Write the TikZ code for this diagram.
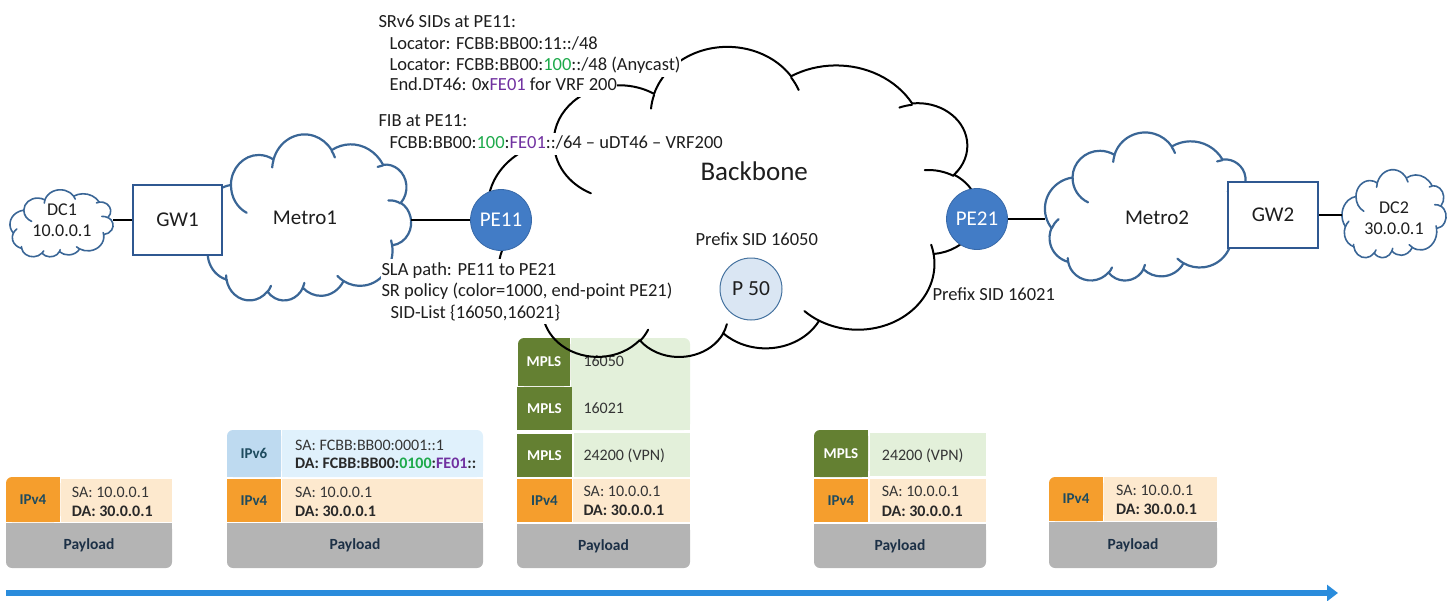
\documentclass[tikz,border=0pt]{standalone}
\usepackage{fontspec}
\setmainfont{Carlito}
\usetikzlibrary{arrows.meta}

\definecolor{cloudblue}{RGB}{58,102,150}
\definecolor{gwblue}{RGB}{47,88,145}
\definecolor{peblue}{RGB}{66,124,198}
\definecolor{pfill}{RGB}{218,230,243}
\definecolor{pborder}{RGB}{70,115,160}
\definecolor{sidgreen}{RGB}{30,170,75}
\definecolor{sidpurple}{RGB}{112,48,160}
\definecolor{ipvfour}{RGB}{245,158,45}
\definecolor{peach}{RGB}{253,233,206}
\definecolor{paygray}{RGB}{180,180,180}
\definecolor{ipvsix}{RGB}{190,218,240}
\definecolor{ipvsixlt}{RGB}{224,241,252}
\definecolor{mplsg}{RGB}{100,128,50}
\definecolor{mplslt}{RGB}{227,240,218}
\definecolor{labteal}{RGB}{30,75,95}
\definecolor{paynavy}{RGB}{28,48,70}
\definecolor{arrowblue}{RGB}{42,140,220}
\definecolor{txt}{RGB}{30,30,30}

% ---- Office-style cloud (rotated 180 degrees), path space 432 x 432 ----
\newcommand\ccstart[2]{%
  \pgfmathsetmacro\ccpx{\ccx+(432-(#1))*\ccsx}%
  \pgfmathsetmacro\ccpy{\ccy+(432-(#2))*\ccsy}%
  \xdef\ccpath{\ccpath (\ccpx,\ccpy)}%
}
\newcommand\ccarc[4]{%
  \pgfmathsetmacro\ccta{atan2((#1)*sin(#3),(#2)*cos(#3))}%
  \pgfmathsetmacro\cctb{atan2((#1)*sin((#3)+(#4)),(#2)*cos((#3)+(#4)))}%
  \pgfmathsetmacro\ccd{mod(\cctb-(\ccta)+720,360)}%
  \pgfmathsetmacro\ccsa{-(\ccta+180)}%
  \pgfmathsetmacro\ccrx{(#1)*\ccsx}%
  \pgfmathsetmacro\ccry{(#2)*\ccsy}%
  \xdef\ccpath{\ccpath arc[start angle=\ccsa, delta angle=-\ccd, x radius=\ccrx pt, y radius=\ccry pt]}%
}
\newcommand\cloudshape[5]{%
  \def\ccx{#1}\def\ccy{#2}%
  \pgfmathsetmacro\ccsx{(#3)/432}\pgfmathsetmacro\ccsy{(#4)/432}%
  \gdef\ccpath{}%
  \ccstart{39.00}{143.70}%
  \ccarc{67.53}{91.90}{-190.48748}{123.78053}%
  \ccarc{53.33}{72.67}{-144.10238}{89.94523}%
  \ccarc{43.65}{59.45}{-145.80792}{99.72302}%
  \ccarc{48.57}{65.95}{-130.98607}{117.24173}%
  \ccarc{53.33}{72.73}{-78.70888}{109.02692}%
  \ccarc{67.75}{92.20}{-46.26725}{130.269}%
  \ccarc{57.85}{78.67}{0.62502}{114.03333}%
  \ccarc{67.52}{92.15}{22.4516}{115.17255}%
  \ccarc{77.20}{105.43}{66.24263}{75.71102}%
  \ccarc{43.60}{59.18}{-274.94208}{146.73557}%
  \ccarc{43.45}{59.45}{-246.8285}{152.51885}%
  \begingroup\edef\x{\endgroup\noexpand\draw[#5] \ccpath -- cycle;}\x
  \gdef\ccpath{}%
  \ccstart{46.93}{261.77}\ccarc{43.45}{59.45}{86.742}{26.4295}%
  \ccstart{69.28}{348.99}\ccarc{43.60}{59.18}{73.61047}{11.44747}%
  \ccstart{164.78}{390.90}\ccarc{67.52}{92.15}{137.62415}{14.0811}%
  \ccstart{288.27}{347.51}\ccarc{67.52}{92.15}{6.45327}{15.99835}%
  \ccstart{341.29}{229.54}\ccarc{57.85}{78.67}{-70.29235}{70.9174}%
  \ccstart{417.98}{153.54}\ccarc{53.33}{72.73}{30.31803}{27.7515}%
  \ccstart{383.24}{54.26}\ccarc{48.57}{65.95}{-13.74433}{14.8589}%
  \ccstart{290.78}{39.52}\ccarc{48.57}{65.95}{-149.18145}{18.19537}%
  \ccstart{221.41}{47.20}\ccarc{43.65}{59.45}{-163.49427}{17.68635}%
  \ccstart{140.00}{51.92}\ccarc{67.53}{91.90}{-66.70695}{12.31935}%
  \ccstart{41.27}{157.89}\ccarc{67.53}{91.90}{157.65435}{11.85817}%
  \begingroup\edef\x{\endgroup\noexpand\draw[#5] \ccpath;}\x
}

% ---- packet cells ----
\newcommand\pktTL[5]{\fill[#5,rounded corners=6pt] (#1,#2) rectangle (#3,#4);
  \fill[#5] ({(#1+#3)/2},#2) rectangle (#3,#4); \fill[#5] (#1,{(#2+#4)/2}) rectangle (#3,#4);}
\newcommand\pktTR[5]{\fill[#5,rounded corners=6pt] (#1,#2) rectangle (#3,#4);
  \fill[#5] (#1,#2) rectangle ({(#1+#3)/2},#4); \fill[#5] (#1,{(#2+#4)/2}) rectangle (#3,#4);}
\newcommand\pktB[5]{\fill[#5,rounded corners=6pt] (#1,#2) rectangle (#3,#4);
  \fill[#5] (#1,#2) rectangle (#3,{(#2+#4)/2});}
\newcommand\pktS[5]{\fill[#5] (#1,#2) rectangle (#3,#4);}

\tikzset{
  cloudline/.style={draw=cloudblue, line width=2.2pt, line join=round, line cap=round},
  bbline/.style={draw=black, line width=2pt, line join=round, line cap=round},
  dcline/.style={draw=cloudblue, line width=1.6pt, line join=round, line cap=round},
  area/.style={rectangle, draw=none, inner sep=0pt},
  ann/.style={anchor=base west, fill=white, inner sep=0.3pt, text height=15.5pt, text depth=6pt, text=txt, font=\fontsize{18.5}{22}\selectfont},
  cname/.style={text=txt, font=\fontsize{21}{24}\selectfont},
  dcname/.style={text=txt, align=center, font=\fontsize{18}{21}\selectfont},
  gw/.style={rectangle, draw=gwblue, line width=2pt, fill=white, text=txt, font=\fontsize{21}{24}\selectfont},
  pe/.style={circle, fill=peblue, draw=peblue!85!black, line width=0.8pt, minimum size=61pt, inner sep=0pt, text=white, font=\fontsize{21}{24}\selectfont},
  pnode/.style={circle, fill=pfill, draw=pborder, line width=1pt, minimum size=62pt, inner sep=0pt, text=txt, font=\fontsize{21.5}{24}\selectfont},
  link/.style={draw=black, line width=1.3pt},
  plab/.style={text=labteal, font=\bfseries\fontsize{15}{17}\selectfont},
  mlab/.style={text=white, font=\bfseries\fontsize{15}{17}\selectfont},
  ptxt/.style={anchor=base west, inner sep=0pt, text=txt!90, font=\fontsize{16}{19}\selectfont},
  pbold/.style={anchor=base west, inner sep=0pt, text=txt!95, font=\bfseries\fontsize{16}{19}\selectfont},
  pay/.style={text=paynavy, font=\bfseries\fontsize{15.5}{18}\selectfont},
}

\begin{document}
\begin{tikzpicture}[x=1pt,y=-1pt]
\useasboundingbox (0,0) rectangle (1454,600);

% ================= packets =================
% packet 1
\pktTL{6}{477}{60}{522}{ipvfour}
\pktS{61}{479}{172}{522}{peach}
\pktB{6}{523}{172}{568}{paygray}
\node[plab] (p1v4) at (33,499.5) {IPv4};
\node[ptxt] (p1sa) at (71.7,497) {SA: 10.0.0.1};
\node[pbold] (p1da) at (71.7,516.7) {DA: 30.0.0.1};
\node[pay] (p1pay) at (89,545.5) {Payload};

% packet 2
\pktTL{227}{430}{281}{477}{ipvsix}
\pktTR{282}{430}{483}{477}{ipvsixlt}
\pktS{227}{479}{281}{522}{ipvfour}
\pktS{282}{479}{483}{522}{peach}
\pktB{227}{523}{483}{568}{paygray}
\node[plab] (p2v6) at (254,453.5) {IPv6};
\node[ptxt] (p2sa6) at (295,450) {SA: FCBB:BB00:0001::1};
\node[pbold] (p2da6) at (295,468.3) {DA: FCBB:BB00:\textcolor{sidgreen}{0100}:\textcolor{sidpurple}{FE01}::};
\node[plab] (p2v4) at (254,500.5) {IPv4};
\node[ptxt] (p2sa) at (295,497.3) {SA: 10.0.0.1};
\node[pbold] (p2da) at (295,516.7) {DA: 30.0.0.1};
\node[pay] (p2pay) at (355,545.5) {Payload};

% packet 3
\pktTL{518}{338}{570}{386}{mplsg}
\pktTR{571}{338}{690}{430}{mplslt}
\pktS{517}{387}{572}{430}{mplsg}
\pktS{517}{434}{572}{477}{mplsg}
\pktS{574}{433}{690}{477}{mplslt}
\pktS{517}{479}{572}{522}{ipvfour}
\pktS{573}{479}{690}{522}{peach}
\pktB{517}{524}{690}{568}{paygray}
\node[mlab] (p3m1) at (544,362) {MPLS};
\node[mlab] (p3m2) at (544.5,408.5) {MPLS};
\node[mlab] (p3m3) at (544.5,455.5) {MPLS};
\node[ptxt] (p3l1) at (583.3,366.7) {16050};
\node[ptxt] (p3l2) at (583.3,413.3) {16021};
\node[ptxt] (p3l3) at (583.3,460) {24200 (VPN)};
\node[plab] (p3v4) at (544.5,500.5) {IPv4};
\node[ptxt] (p3sa) at (583.3,496.7) {SA: 10.0.0.1};
\node[pbold] (p3da) at (583.3,515.7) {DA: 30.0.0.1};
\node[pay] (p3pay) at (603.5,546) {Payload};

% packet 4
\pktTL{814}{430}{868}{477}{mplsg}
\pktS{870}{433}{986}{476}{mplslt}
\pktS{814}{479}{868}{522}{ipvfour}
\pktS{870}{479}{986}{522}{peach}
\pktB{814}{524}{986}{568}{paygray}
\node[mlab] (p4m) at (841,453.5) {MPLS};
\node[ptxt] (p4l) at (881.7,460) {24200 (VPN)};
\node[plab] (p4v4) at (841,500.5) {IPv4};
\node[ptxt] (p4sa) at (881.7,496) {SA: 10.0.0.1};
\node[pbold] (p4da) at (881.7,516) {DA: 30.0.0.1};
\node[pay] (p4pay) at (900,546) {Payload};

% packet 5
\pktTL{1049}{477}{1103}{521}{ipvfour}
\pktS{1104}{477}{1217}{521}{peach}
\pktB{1049}{522}{1217}{568}{paygray}
\node[plab] (p5v4) at (1076,499) {IPv4};
\node[ptxt] (p5sa) at (1116,495) {SA: 10.0.0.1};
\node[pbold] (p5da) at (1116,514) {DA: 30.0.0.1};
\node[pay] (p5pay) at (1133,545) {Payload};

% ================= clouds =================
\cloudshape{10}{190}{103}{67}{dcline}
\cloudshape{203}{135}{208}{166}{cloudline}
\cloudshape{488}{48}{490}{310}{bbline}
\cloudshape{1045}{133}{205}{148}{cloudline}
\cloudshape{1342}{170}{104}{88}{dcline}

\node[area, minimum width=103pt, minimum height=67pt] (dc1) at (61.5,223.5) {};
\node[area, minimum width=208pt, minimum height=166pt] (metro1) at (307,218) {};
\node[area, minimum width=490pt, minimum height=310pt] (backbone) at (733,203) {};
\node[area, minimum width=205pt, minimum height=148pt] (metro2) at (1147.5,218) {};
\node[area, minimum width=104pt, minimum height=88pt] (dc2) at (1394,218) {};

\node[dcname] (dc1t) at (62,220) {DC1\\10.0.0.1};
\node[dcname] (dc2t) at (1394,218) {DC2\\30.0.0.1};
\node[cname] (m1t) at (305,218) {Metro1};
\node[cname] (m2t) at (1157,218) {Metro2};
\node[anchor=base west, text=txt, font=\fontsize{27}{30}\selectfont] (bbt) at (697,180) {Backbone};

% ================= devices =================
\node[gw, minimum width=89pt, minimum height=70pt] (gw1) at (177.5,220) {GW1};
\node[gw, minimum width=90pt, minimum height=66pt] (gw2) at (1273,215) {GW2};
\node[pe] (pe11) at (501,220) {PE11};
\node[pe] (pe21) at (977,219) {PE21};
\node[pnode] (p50) at (751,289) {P 50};

% ================= links =================
\draw[link] (gw1.west) -- (gw1.west -| dc1.east);
\draw[link] (pe11.west) -- (pe11.west -| metro1.east);
\draw[link] (pe21.east) -- (pe21.east -| metro2.west);
\draw[link] (gw2.east) -- (gw2.east -| dc2.west);

% ================= annotations =================
\node[ann] (s1) at (378,27.7) {SRv6 SIDs at PE11:};
\node[ann] (s2) at (389,49.3) {Locator: FCBB:BB00:11::/48};
\node[ann] (s3) at (389,70.7) {Locator: FCBB:BB00:\textcolor{sidgreen}{100}::/48 (Anycast)};
\node[ann] (s4) at (389,90.7) {End.DT46: 0x\textcolor{sidpurple}{FE01} for VRF 200};
\node[ann] (f1) at (378,126.7) {FIB at PE11:};
\node[ann] (f2) at (389,148.3) {FCBB:BB00:\textcolor{sidgreen}{100}:\textcolor{sidpurple}{FE01}::/64 – uDT46 – VRF200};
\node[ann] (l1) at (381,275) {SLA path: PE11 to PE21};
\node[ann] (l2) at (381,296.7) {SR policy (color=1000, end-point PE21)};
\node[ann] (l3) at (390,318) {SID-List \{16050,16021\}};
\node[ann] (ps1) at (695,245) {Prefix SID 16050};
\node[ann] (ps2) at (932,300) {Prefix SID 16021};

% ================= time arrow =================
\coordinate (arrS) at (6,593);
\coordinate (arrE) at (1338,593);
\draw[draw=arrowblue, line width=6pt, -{Triangle[length=11pt,width=16pt]}] (arrS) -- (arrE);
\end{tikzpicture}
\end{document}
